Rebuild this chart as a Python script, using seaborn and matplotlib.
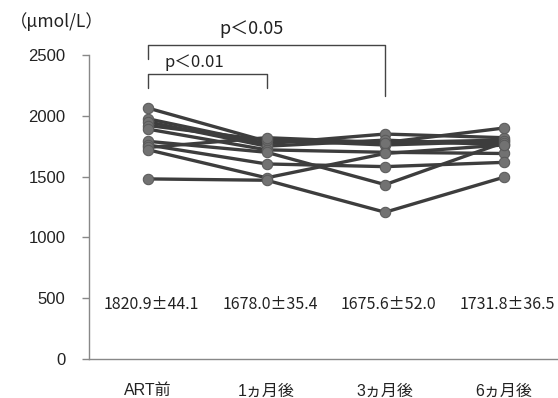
import pandas as pd
import matplotlib.pyplot as plt
import seaborn as sns

# time points and per-subject values (umol/L)
timepoints = ['ART前', '1ヵ月後', '3ヵ月後', '6ヵ月後']
s01 = [2063, 1790, 1780, 1800]
s02 = [1975, 1770, 1850, 1820]
s03 = [1950, 1750, 1800, 1760]
s04 = [1920, 1800, 1760, 1790]
s05 = [1890, 1720, 1700, 1690]
s06 = [1790, 1700, 1434, 1780]
s07 = [1760, 1604, 1582, 1617]
s08 = [1740, 1820, 1780, 1899]
s09 = [1720, 1490, 1690, 1760]
s10 = [1481, 1470, 1207, 1494]
mean_se_labels = ['1820.9±44.1', '1678.0±35.4', '1675.6±52.0', '1731.8±36.5']

subjects = [s01, s02, s03, s04, s05, s06, s07, s08, s09, s10]
rows = []
for i, vals in enumerate(subjects):
    for t, v in zip(timepoints, vals):
        rows.append({'subject': i, 'time': t, 'value': v})
df = pd.DataFrame(rows)

sns.set_style('white')
plt.rcParams['font.family'] = ['Liberation Sans', 'Noto Sans CJK JP']

fig = plt.figure(figsize=(5.58, 3.98), dpi=100)
ax = fig.add_axes([89 / 558, 1 - 359 / 398, (558 - 89) / 558, (359 - 55) / 398])

sns.lineplot(data=df, x='time', y='value', units='subject', estimator=None,
             color='#3d3d3d', linewidth=2.4, marker='o', markersize=7.5,
             markerfacecolor='#727272', markeredgecolor='#5a5a5a',
             sort=False, ax=ax)

ax.set_xlim(-0.5, 3.46)
ax.set_ylim(0, 2500)
ax.set_yticks([0, 500, 1000, 1500, 2000, 2500])
ax.set_xlabel('')
ax.set_ylabel('')
sns.despine(ax=ax)
for side in ['left', 'bottom']:
    ax.spines[side].set_color('#888888')
    ax.spines[side].set_linewidth(1.0)
ax.tick_params(axis='y', left=True, length=5, color='#888888', width=1,
               labelsize=12, pad=12, labelcolor='#222222')
ax.tick_params(axis='x', bottom=False, labelsize=11.5, pad=14, labelcolor='#222222')

# mean ± SE
for i, lab in enumerate(mean_se_labels):
    ax.text(i + 0.03, 450, lab, ha='center', va='center', fontsize=11.5,
            color='#222222', family=['Noto Sans CJK JP', 'DejaVu Sans'])

# unit label
fig.text(10 / 558, 1 - 22 / 398, '（μmol/L）', fontsize=12.5, ha='left', va='center',
         color='#222222', family=['Noto Sans CJK JP', 'DejaVu Sans'])

# significance brackets
def bracket(x0, x1, ytop, yleft, yright, label, lx, ly, fs):
    ax.plot([x0, x0, x1, x1], [yleft, ytop, ytop, yright], color='#444444',
            linewidth=1.0, clip_on=False)
    ax.text(lx, ly, label, ha='center', va='center', fontsize=fs, color='#222222',
            family=['Noto Sans CJK JP', 'DejaVu Sans'])

bracket(0, 2, 2585, 2470, 2165, 'p＜0.05', 0.87, 2710, 13)
bracket(0, 1, 2340, 2225, 2225, 'p＜0.01', 0.39, 2435, 12)

fig.savefig('out.png', dpi=100)
